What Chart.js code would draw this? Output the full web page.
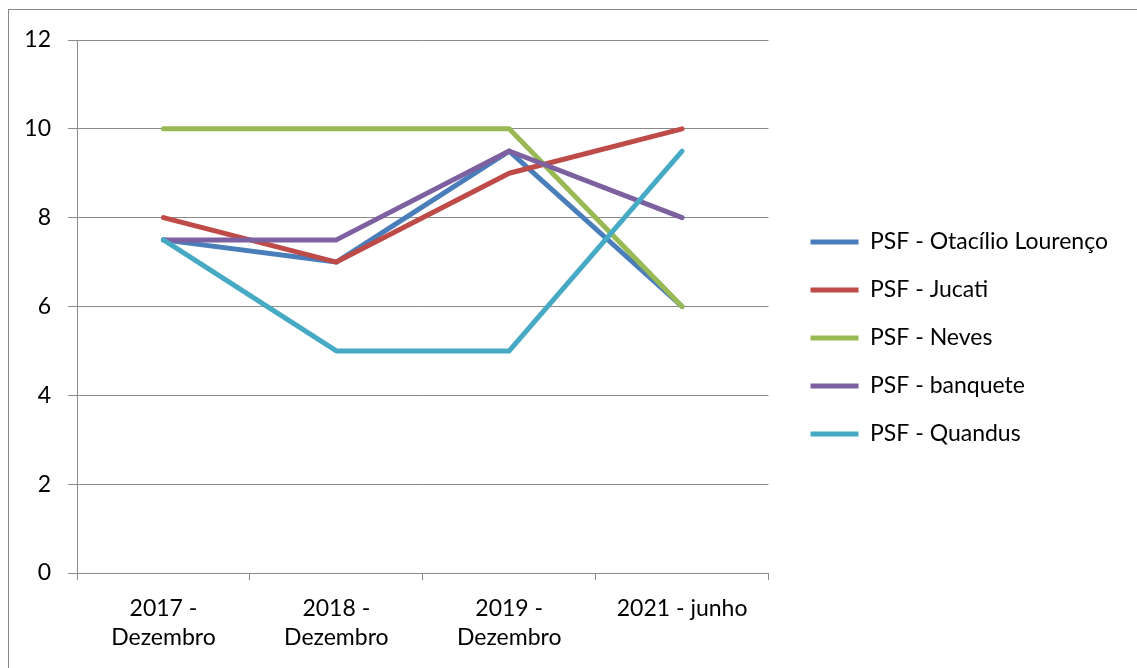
<!DOCTYPE html>
<html>
<head>
<meta charset="utf-8">
<script src="https://cdn.jsdelivr.net/npm/chart.js@4/dist/chart.umd.min.js"></script>
<style>
  body { margin: 0; background: #fff; overflow: hidden; }
  #frame { position: absolute; left: 8px; top: 9px; width: 1200px; height: 700px; border: 1px solid #8a8a8a; }
  #chart { position: absolute; left: 0; top: 0; }
</style>
</head>
<body>
<div id="frame"></div>
<canvas id="chart" width="1137" height="668"></canvas>
<script>
// categories (x axis)
var periods = [["2017 -", "Dezembro"], ["2018 -", "Dezembro"], ["2019 -", "Dezembro"], "2021 - junho"];

// series values, one per PSF
var otacilio = [7.5, 7, 9.5, 6];
var jucati = [8, 7, 9, 10];
var neves = [10, 10, 10, 6];
var banquete = [7.5, 7.5, 9.5, 8];
var quandus = [7.5, 5, 5, 9.5];

var seriesNames = ["PSF - Otacílio Lourenço", "PSF - Jucati", "PSF - Neves", "PSF - banquete", "PSF - Quandus"];
var seriesColors = ["#4A7EBB", "#BE4B48", "#98B954", "#7D60A0", "#46AAC5"];
var seriesData = [otacilio, jucati, neves, banquete, quandus];

var gridColor = "#8a8a8a";
var fontSize = 23;
Chart.defaults.font.family = "Lato, 'Open Sans', sans-serif";
Chart.defaults.color = "#000";

// build datasets; later series drawn on top like the original
var datasets = seriesData.map(function (vals, i) {
  return {
    label: seriesNames[i],
    data: vals,
    borderColor: seriesColors[i],
    backgroundColor: seriesColors[i],
    borderWidth: 5,
    borderCapStyle: 'round',
    borderJoinStyle: 'round',
    pointRadius: 0,
    pointHoverRadius: 0,
    pointStyle: 'line',
    tension: 0,
    fill: false,
    order: seriesData.length - i
  };
});

new Chart(document.getElementById('chart').getContext('2d'), {
  type: 'line',
  data: { labels: periods, datasets: datasets },
  options: {
    responsive: false,
    animation: false,
    layout: { padding: { top: 40, right: 19, bottom: 0, left: 0 } },
    plugins: {
      tooltip: { enabled: false },
      legend: {
        position: 'right',
        fullSize: false,
        maxWidth: 500,
        // empty title only used to push the items down a bit
        title: { display: true, text: ' ', font: { size: fontSize }, padding: { top: 35.4, bottom: 0 } },
        labels: {
          usePointStyle: true,
          pointStyleWidth: 48,
          padding: 25,
          font: { size: fontSize },
          color: '#000',
          sort: function (a, b) { return a.datasetIndex - b.datasetIndex; }
        }
      }
    },
    scales: {
      x: {
        offset: true,
        grid: { display: true, drawOnChartArea: false, drawTicks: true, tickLength: 7, color: gridColor, offset: true },
        border: { color: gridColor, width: 1 },
        ticks: { font: { size: fontSize, lineHeight: 1.26 }, padding: 14, maxRotation: 0, autoSkip: false, color: '#000' },
        afterFit: function (s) { s.height = 95; }
      },
      y: {
        min: 0,
        max: 12,
        grid: { color: gridColor, lineWidth: 1, tickLength: 9 },
        border: { color: gridColor, width: 1 },
        ticks: { stepSize: 2, font: { size: fontSize }, padding: 17, color: '#000' },
        afterFit: function (s) { s.width = 77; }
      },
      // spacer between plot and legend
      gap: {
        type: 'linear',
        position: 'right',
        display: true,
        grid: { display: false },
        border: { display: false },
        ticks: { display: false },
        afterFit: function (s) { s.width = 17; }
      }
    }
  }
});
</script>
</body>
</html>
